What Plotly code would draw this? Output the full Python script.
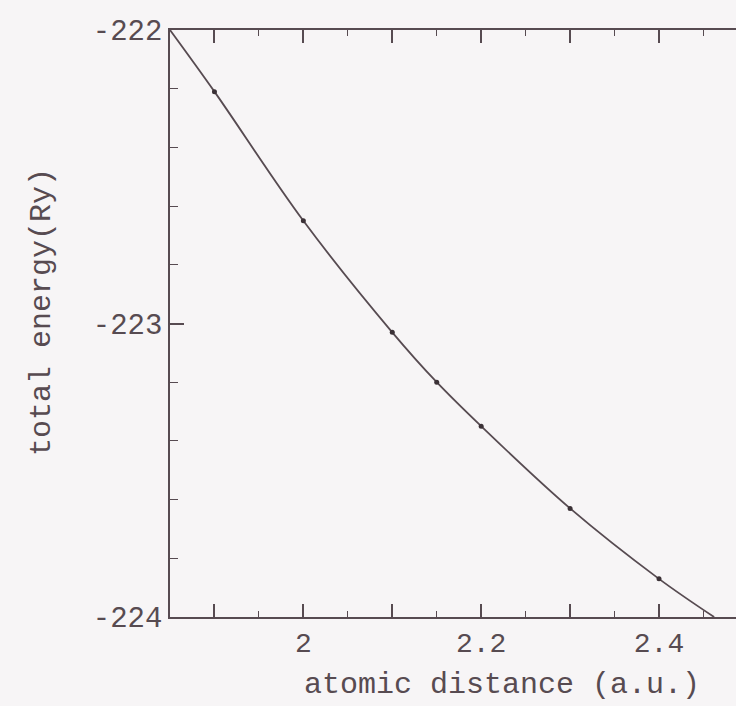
import plotly.graph_objects as go

# measured points (atomic distance in a.u., total energy in Ry)
distance = [1.9, 2.0, 2.1, 2.15, 2.2, 2.3, 2.4]
energy = [-222.21, -222.65, -223.03, -223.20, -223.35, -223.63, -223.87]

# fitted curve (includes where it meets the frame)
curve_x = [1.85, 1.9, 2.0, 2.1, 2.15, 2.2, 2.3, 2.4, 2.462]
curve_y = [-222.0, -222.21, -222.65, -223.03, -223.20, -223.35, -223.63, -223.87, -224.0]

x_tickvals = [1.9, 2.0, 2.1, 2.2, 2.3, 2.4]
x_ticktext = ["", "2", "", "2.2", "", "2.4"]
y_tickvals = [-224, -223, -222]
y_ticktext = ["-224", "-223", "-222"]

ink = "#574b51"
bg = "#f7f5f6"
mono = "Liberation Mono, DejaVu Sans Mono, monospace"

fig = go.Figure()
fig.add_trace(go.Scatter(
    x=curve_x, y=curve_y, mode="lines",
    line=dict(color=ink, width=1.8, shape="spline", smoothing=1.0),
    hoverinfo="skip", showlegend=False,
))
fig.add_trace(go.Scatter(
    x=distance, y=energy, mode="markers",
    marker=dict(color="#3b3136", size=5),
    showlegend=False,
))

fig.update_layout(
    width=736, height=706,
    margin=dict(l=170, r=0, t=30, b=89),
    paper_bgcolor=bg, plot_bgcolor=bg,
    font=dict(family=mono, color=ink, size=28),
    showlegend=False,
)

fig.update_xaxes(
    range=[1.85, 2.4866], showgrid=False, zeroline=False,
    showline=True, linecolor=ink, linewidth=1.6, mirror="ticks",
    ticks="inside", tickvals=x_tickvals, ticktext=x_ticktext,
    ticklen=13, tickwidth=1.6, tickcolor=ink,
    tickfont=dict(family=mono, size=28, color=ink),
    minor=dict(ticks="inside", tick0=1.85, dtick=0.05, ticklen=6,
               tickwidth=1.4, tickcolor=ink),
)
fig.update_yaxes(
    range=[-224, -222], showgrid=False, zeroline=False,
    showline=True, linecolor=ink, linewidth=1.6, mirror=False,
    ticks="inside", tickvals=y_tickvals, ticktext=y_ticktext,
    ticklen=14, tickwidth=1.6, tickcolor=ink,
    tickfont=dict(family=mono, size=29, color=ink),
    minor=dict(ticks="inside", tick0=-224, dtick=0.2, ticklen=8,
               tickwidth=1.4, tickcolor=ink),
)

fig.add_annotation(
    text="atomic distance (a.u.)", xref="paper", yref="paper",
    x=(502 - 170) / 566, y=-(685 - 617) / 587, xanchor="center", yanchor="middle",
    showarrow=False, font=dict(family=mono, size=30, color=ink),
)
fig.add_annotation(
    text="total energy(Ry)", xref="paper", yref="paper",
    x=-(170 - 42) / 566, y=(617 - 312) / 587, xanchor="center", yanchor="middle",
    textangle=-90, showarrow=False, font=dict(family=mono, size=30, color=ink),
)

fig.write_html(
    "out.html",
    config={"displayModeBar": False},
    post_script="document.body.style.margin='0';document.body.style.overflow='hidden';"
                "document.body.style.background='" + bg + "';",
)
